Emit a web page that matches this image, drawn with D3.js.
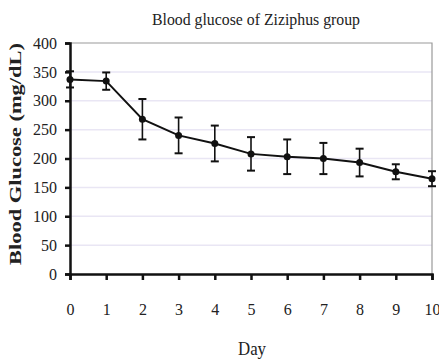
<!DOCTYPE html>
<html>
<head>
<meta charset="utf-8">
<script src="https://cdn.jsdelivr.net/npm/d3@7"></script>
<style>
  body { margin: 0; background: #fff; }
  text { font-family: "Liberation Serif", "Times New Roman", serif; fill: #222; }
</style>
</head>
<body>
<div id="chart"></div>
<script>
'use strict';

// ------------ DATA ---------------- //

const DAYS      = [0, 1, 2, 3, 4, 5, 6, 7, 8, 9, 10];
const GLUCOSE   = [337, 334, 268, 240, 226, 208, 203, 200, 193, 177, 165];
const ERRORS    = [14, 15, 35, 31, 31, 29, 30, 27, 24, 13, 13];
const Y_TICKS   = [0, 50, 100, 150, 200, 250, 300, 350, 400];

// ------------ DRAWING ------------- //

const drawChart = () => {
    const width  = 439;
    const height = 364;
    const margin = {top: 43, right: 7, bottom: 90, left: 70};

    const svg = d3.select('#chart')
        .append('svg')
        .attr('width', width)
        .attr('height', height);

    const x = d3.scaleLinear().domain([0, 10]).range([margin.left, width - margin.right]);
    const y = d3.scaleLinear().domain([0, 400]).range([height - margin.bottom, margin.top]);

    // gridlines
    svg.append('g')
        .selectAll('line')
        .data(Y_TICKS.filter(t => t > 0 && t < 400))
        .enter().append('line')
        .attr('x1', x(0)).attr('x2', x(10))
        .attr('y1', d => y(d)).attr('y2', d => y(d))
        .attr('stroke', '#e9e6f4')
        .attr('stroke-width', 1.5);

    // plot border (top / right)
    svg.append('path')
        .attr('d', `M${x(0)},${y(400)}H${x(10)}V${y(0)}`)
        .attr('fill', 'none')
        .attr('stroke', '#9a9a9a')
        .attr('stroke-width', 1.2);

    // y axis
    const yAxis = svg.append('g')
        .attr('transform', `translate(${x(0)},0)`)
        .call(d3.axisLeft(y).tickValues(Y_TICKS).tickSize(5).tickPadding(8));
    yAxis.select('.domain').attr('stroke', '#111').attr('stroke-width', 2.5);
    yAxis.selectAll('.tick line').attr('stroke', '#111').attr('stroke-width', 2.5);
    yAxis.selectAll('.tick text')
        .attr('font-size', 16)
        .attr('font-family', '"Liberation Serif", serif')
        .attr('fill', '#333');

    // x axis
    const xAxis = svg.append('g')
        .attr('transform', `translate(0,${y(0)})`)
        .call(d3.axisBottom(x).tickValues(DAYS).tickFormat(d3.format('d')).tickSize(6).tickPadding(24));
    xAxis.select('.domain').attr('stroke', '#111').attr('stroke-width', 2.5);
    xAxis.selectAll('.tick line').attr('stroke', '#111').attr('stroke-width', 2.5);
    xAxis.selectAll('.tick text')
        .attr('font-size', 16)
        .attr('font-family', '"Liberation Serif", serif')
        .attr('fill', '#333');

    const points = DAYS.map((d, i) => ({day: d, value: GLUCOSE[i], err: ERRORS[i]}));

    // line
    svg.append('path')
        .datum(points)
        .attr('fill', 'none')
        .attr('stroke', '#111')
        .attr('stroke-width', 2)
        .attr('d', d3.line().x(d => x(d.day)).y(d => y(d.value)));

    // error bars
    const bars = svg.append('g')
        .selectAll('g')
        .data(points)
        .enter().append('g')
        .attr('stroke', '#111')
        .attr('stroke-width', 1.6);

    bars.append('line')
        .attr('x1', d => x(d.day)).attr('x2', d => x(d.day))
        .attr('y1', d => y(d.value + d.err)).attr('y2', d => y(d.value - d.err));
    bars.append('line')
        .attr('x1', d => x(d.day) - 4).attr('x2', d => x(d.day) + 4)
        .attr('y1', d => y(d.value + d.err)).attr('y2', d => y(d.value + d.err))
        .attr('stroke-width', 2);
    bars.append('line')
        .attr('x1', d => x(d.day) - 4).attr('x2', d => x(d.day) + 4)
        .attr('y1', d => y(d.value - d.err)).attr('y2', d => y(d.value - d.err))
        .attr('stroke-width', 2);

    // markers
    svg.append('g')
        .selectAll('circle')
        .data(points)
        .enter().append('circle')
        .attr('cx', d => x(d.day))
        .attr('cy', d => y(d.value))
        .attr('r', 3.5)
        .attr('fill', '#111');

    // title
    svg.append('text')
        .attr('x', 256)
        .attr('y', 25)
        .attr('text-anchor', 'middle')
        .attr('font-size', 17)
        .attr('textLength', 208)
        .attr('lengthAdjust', 'spacingAndGlyphs')
        .text('Blood glucose of Ziziphus group');

    // axis labels
    svg.append('text')
        .attr('x', 252)
        .attr('y', 355)
        .attr('text-anchor', 'middle')
        .attr('font-size', 18)
        .attr('textLength', 28)
        .attr('lengthAdjust', 'spacingAndGlyphs')
        .text('Day');

    svg.append('text')
        .attr('transform', 'translate(21,154) rotate(-90)')
        .attr('text-anchor', 'middle')
        .attr('font-size', 17)
        .attr('font-weight', 'bold')
        .attr('textLength', 222)
        .attr('lengthAdjust', 'spacingAndGlyphs')
        .text('Blood Glucose (mg/dL)');
};

// ------------ MAIN ------------- //

document.addEventListener('DOMContentLoaded', drawChart);
</script>
</body>
</html>
